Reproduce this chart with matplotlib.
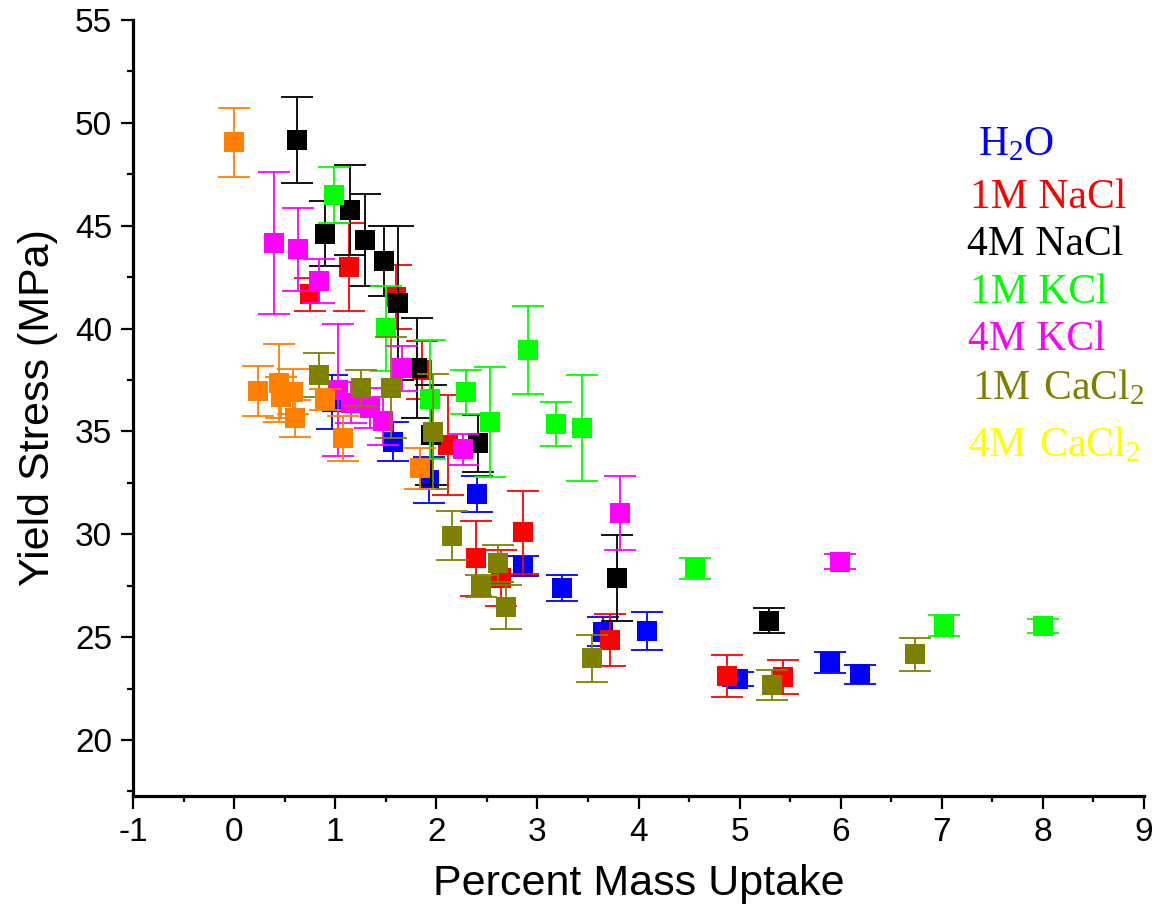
"""Yield stress against percent mass uptake for each soak solution."""

import matplotlib

matplotlib.use("Agg")
import matplotlib.pyplot as plt
from matplotlib.ticker import MultipleLocator

plt.rcParams["font.family"] = ["Liberation Sans", "DejaVu Sans"]
plt.rcParams["mathtext.fontset"] = "custom"
plt.rcParams["mathtext.rm"] = "Liberation Serif"
plt.rcParams["axes.unicode_minus"] = False

# mass uptake (%), yield stress (MPa), error (MPa)
h2o_x = [0.97, 1.57, 1.93, 2.40, 2.855, 3.247, 3.653, 4.08, 4.98, 5.895, 6.19]
h2o_y = [36.43, 34.5, 32.64, 31.96, 28.47, 27.37, 25.26, 25.3, 22.96, 23.77, 23.19]
h2o_err = [1.32, 0.95, 1.1, 0.89, 0.5, 0.63, 0.7, 0.92, 0.35, 0.5, 0.48]

nacl1_x = [0.752, 1.138, 1.6, 1.855, 2.12, 2.39, 2.64, 2.86, 3.72, 4.88, 5.427]
nacl1_y = [41.66, 43.0, 41.55, 37.99, 34.34, 28.83, 27.89, 30.09, 24.86, 23.11, 23.08]
nacl1_err = [0.8, 2.15, 1.55, 1.4, 2.42, 1.82, 1.36, 2.02, 1.27, 1.0, 0.82]

nacl4_x = [0.623, 0.904, 1.144, 1.29, 1.487, 1.625, 1.81, 1.945, 2.417, 3.79, 5.29]
nacl4_y = [49.18, 44.61, 45.76, 44.29, 43.27, 41.26, 38.07, 34.82, 34.42, 27.88, 25.8]
nacl4_err = [2.1, 1.57, 2.2, 2.24, 1.7, 3.74, 2.44, 2.43, 1.37, 2.08, 0.6]

kcl1_x = [0.99, 1.503, 1.94, 2.295, 2.535, 2.91, 3.18, 3.44, 4.56, 7.02, 8.0]
kcl1_y = [46.49, 40.01, 36.56, 36.93, 35.44, 38.96, 35.37, 35.18, 28.35, 25.55, 25.55]
kcl1_err = [1.36, 2.07, 2.9, 1.08, 2.67, 2.14, 1.08, 2.58, 0.5, 0.51, 0.33]

kcl4_x = [0.396, 0.63, 0.84, 1.03, 1.16, 1.345, 1.477, 1.659, 2.26, 3.82, 5.99]
kcl4_y = [44.14, 43.85, 42.33, 37.0, 36.4, 36.12, 35.5, 38.07, 34.13, 31.02, 28.67]
kcl4_err = [3.45, 2.0, 1.07, 3.2, 1.0, 0.97, 1.17, 1.1, 0.77, 1.8, 0.38]

cacl1_x = [0.835, 1.253, 1.553, 1.963, 2.153, 2.44, 2.614, 2.69, 3.538, 5.32, 6.73]
cacl1_y = [37.74, 37.13, 37.13, 34.99, 29.93, 27.48, 28.59, 26.48, 23.97, 22.67, 24.18]
cacl1_err = [1.06, 0.88, 2.45, 2.8, 1.2, 0.52, 0.9, 1.07, 1.13, 0.72, 0.8]

cacl4_x = [0.0, 0.234, 0.445, 0.462, 0.587, 0.603, 0.9, 1.08, 1.84]
cacl4_y = [49.05, 36.96, 37.34, 36.66, 36.93, 35.63, 36.56, 34.66, 33.2]
cacl4_err = [1.66, 1.2, 1.9, 1.0, 1.1, 0.89, 0.5, 1.1, 1.0]

SERIES = [
    ("$\\mathregular{H_2O}$", "#0000ff", "#0000ff", h2o_x, h2o_y, h2o_err),
    ("1M NaCl", "#ff0000", "#ff0000", nacl1_x, nacl1_y, nacl1_err),
    ("4M NaCl", "#000000", "#000000", nacl4_x, nacl4_y, nacl4_err),
    ("1M KCl", "#00ff00", "#00ff00", kcl1_x, kcl1_y, kcl1_err),
    ("4M KCl", "#ff00ff", "#ff00ff", kcl4_x, kcl4_y, kcl4_err),
    ("$\\mathregular{1M\\ CaCl_2}$", "#808000", "#808000", cacl1_x, cacl1_y, cacl1_err),
    ("$\\mathregular{4M\\ CaCl_2}$", "#ff8000", "#ffff00", cacl4_x, cacl4_y, cacl4_err),
]

LABEL_POS = [(978, 145), (970, 198), (967, 245), (970, 293), (968, 340), (972, 388), (968, 445)]

fig = plt.figure(figsize=(11.63, 9.19), dpi=100)
ax = fig.add_axes([133 / 1163, 1 - 796 / 919, (1144 - 133) / 1163, (796 - 20) / 919])

for i, (label, color, text_color, x, y, err) in enumerate(SERIES):
    # bars and caps first, square markers on top of them
    ax.errorbar(
        x, y, yerr=err, fmt="none", ecolor=color,
        elinewidth=1.3, capsize=11.5, capthick=1.3, zorder=3 + 2 * i,
    )
    ax.plot(x, y, "s", color=color, ms=14.4, mew=0, zorder=4 + 2 * i)
    px, py = LABEL_POS[i]
    fig.text(px / 1163, 1 - py / 919, label, color=text_color, fontsize=30,
             family="Liberation Serif", va="center", ha="left")

ax.set_xlim(-1, 9)
ax.set_ylim(17.28, 55)
ax.xaxis.set_major_locator(MultipleLocator(1))
ax.xaxis.set_minor_locator(MultipleLocator(0.5))
ax.yaxis.set_major_locator(MultipleLocator(5))
ax.yaxis.set_minor_locator(MultipleLocator(2.5))
ax.set_yticks(range(20, 56, 5))

ax.spines[["top", "right"]].set_visible(False)
ax.spines[["left", "bottom"]].set_linewidth(2.3)
ax.tick_params(which="major", direction="out", length=9, width=1.6, labelsize=24, pad=6)
ax.tick_params(which="minor", direction="out", length=4.5, width=1.6)

ax.set_xlabel("Percent Mass Uptake", fontsize=31, labelpad=12)
ax.set_ylabel("Yield Stress (MPa)", fontsize=31, labelpad=12)

fig.savefig("out.png", dpi=100, facecolor="white")
